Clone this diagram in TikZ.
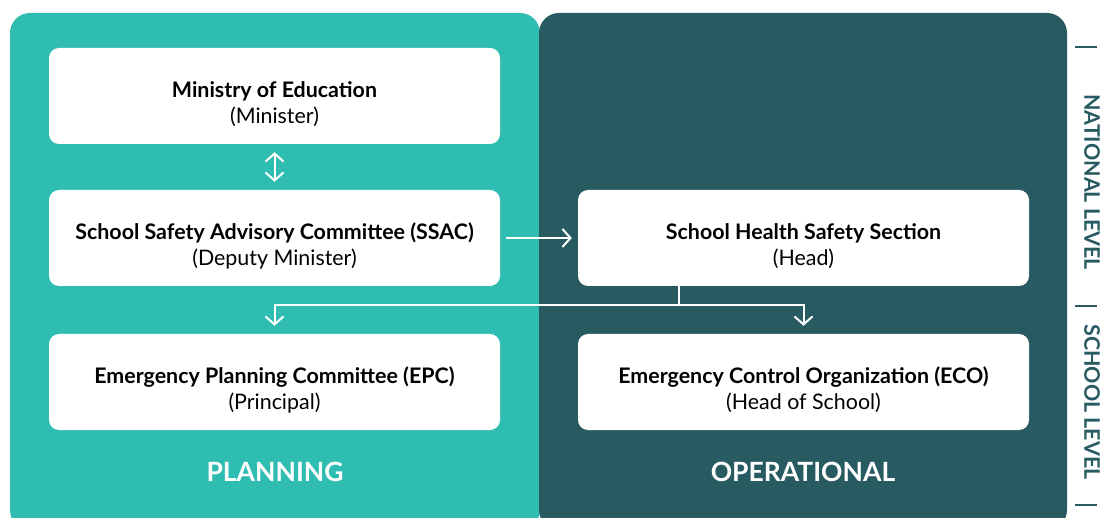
\documentclass[tikz,border=0pt]{standalone}
\usepackage{fontspec}
\setmainfont{Lato}
\usetikzlibrary{arrows.meta}
\usetikzlibrary{positioning}
\definecolor{planteal}{RGB}{47,189,177}
\definecolor{opdark}{RGB}{40,90,97}
\tikzset{
   unitbox/.style={fill=white, rounded corners=10pt, minimum width=451pt, minimum height=96pt,
      align=center, inner sep=0pt, text=black, font=\fontsize{21.4}{26}\selectfont},
   link/.style={draw=white, line width=2pt, >={Straight Barb[length=8pt,width=18pt]}},
   panellabel/.style={text=white, font=\bfseries\fontsize{26.5}{30}\selectfont},
   levellabel/.style={text=opdark, rotate=-90, font=\bfseries\fontsize{21.4}{24}\selectfont},
}
\newcommand{\unittext}[2]{\rule{0pt}{32pt}\textbf{#1}\\#2}

\begin{document}
\begin{tikzpicture}[x=1pt,y=-1pt]
\useasboundingbox (0,0) rectangle (1100,518);

% panels
\fill [planteal, rounded corners=20pt] (10,13) rectangle (540,530);
\fill [opdark, rounded corners=20pt] (539,13) rectangle (1067,530);

\node [unitbox] at (274.5,96) (moe) {\unittext{Ministry of Education}{(Minister)}};
\node [unitbox] at (274.5,238) (ssac) {\unittext{School Safety Advisory Committee (SSAC)}{(Deputy Minister)}};
\node [unitbox] at (274.5,382) (epc) {\unittext{Emergency Planning Committee (EPC)}{(Principal)}};
\node [unitbox] at (803.5,238) (shss) {\unittext{School Health Safety Section}{(Head)}};
\node [unitbox] at (803.5,382) (eco) {\unittext{Emergency Control Organization (ECO)}{(Head of School)}};
\coordinate (fork) at (679,305);

\draw [link,<->] ([yshift=-8pt]moe.south) -- ([yshift=8pt]ssac.north);
\draw [link,->] ([xshift=6pt]ssac.east) -- ([xshift=-6pt]shss.west);
\draw [link] (fork |- shss.south) -- (fork);
\draw [link,->] (fork) -| ([yshift=8pt]epc.north);
\draw [link,->] (fork) -| ([yshift=8pt]eco.north);

\node [panellabel] at (275,472) (plan) {PLANNING};
\node [panellabel] at (803,472) (oper) {OPERATIONAL};

% side levels
\node [levellabel] at (1092,182) (natl) {NATIONAL LEVEL};
\node [levellabel] at (1092,402) (schl) {SCHOOL LEVEL};
\foreach \ty in {47,306,505}
   \draw [opdark, line width=1.2pt] (1075,\ty) -- (1097,\ty);

\end{tikzpicture}
\end{document}
